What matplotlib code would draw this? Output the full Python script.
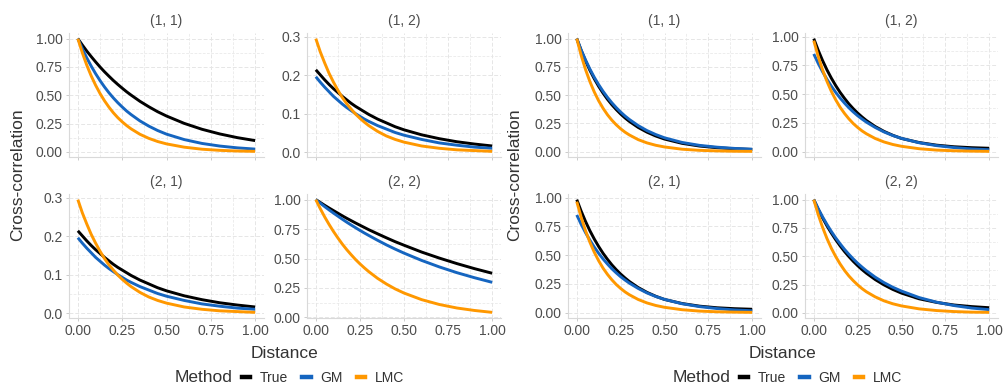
import matplotlib
matplotlib.use("Agg")
import matplotlib.pyplot as plt
from matplotlib.ticker import MultipleLocator, AutoMinorLocator, FormatStrFormatter
from matplotlib.lines import Line2D

plt.rcParams['font.family'] = ['Liberation Sans', 'DejaVu Sans']

# -----------------------------
# data
# -----------------------------
distance = [0, 0.025, 0.05, 0.075, 0.1, 0.125, 0.15, 0.175, 0.2, 0.225, 0.25, 0.275,
            0.3, 0.35, 0.4, 0.45, 0.5, 0.6, 0.7, 0.8, 0.9, 1.0]
methods = ["True", "GM", "LMC"]
method_colors = ["#000000", "#1565c0", "#ff9800"]
panel_titles = ["(1, 1)", "(1, 2)", "(2, 1)", "(2, 2)"]

# left figure
left_11_true = [1, .944, .891, .842, .795, .750, .708, .669, .631, .596, .563, .531,
                .502, .447, .399, .355, .317, .252, .200, .159, .126, .100]
left_11_gm = [1, .912, .831, .758, .691, .630, .574, .523, .477, .435, .397, .361,
              .330, .274, .228, .189, .157, .109, .075, .052, .036, .025]
left_11_lmc = [1, .876, .767, .672, .589, .516, .452, .396, .346, .303, .266, .233,
               .204, .156, .120, .092, .071, .042, .024, .014, .008, .005]

left_12_true = [.214, .201, .188, .176, .165, .155, .145, .136, .127, .119, .112, .105,
                .098, .086, .076, .066, .058, .045, .035, .027, .021, .016]
left_12_gm = [.196, .182, .169, .157, .145, .135, .125, .116, .108, .100, .093, .086,
              .080, .069, .060, .051, .044, .033, .024, .018, .013, .010]
left_12_lmc = [.295, .261, .232, .205, .182, .161, .142, .126, .112, .099, .088, .078,
               .069, .054, .042, .033, .026, .016, .010, .006, .004, .002]

left_22_true = [1, .976, .952, .929, .907, .885, .863, .842, .822, .802, .783, .764,
                .745, .710, .676, .643, .613, .555, .504, .457, .414, .375]
left_22_gm = [1, .970, .941, .913, .886, .860, .834, .809, .785, .762, .739, .717,
              .696, .655, .616, .580, .546, .484, .429, .380, .337, .298]
left_22_lmc = [1, .924, .854, .790, .730, .675, .623, .576, .533, .492, .455, .421,
               .389, .332, .284, .242, .207, .151, .110, .080, .059, .043]

# right figure
right_11_true = [1, .896, .803, .719, .644, .577, .517, .463, .415, .372, .333, .298,
                 .267, .214, .172, .138, .111, .073, .049, .034, .025, .019]
right_11_gm = [1, .900, .811, .730, .657, .592, .533, .480, .432, .389, .350, .315,
               .284, .230, .186, .151, .122, .081, .055, .039, .028, .021]
right_11_lmc = [1, .852, .726, .619, .527, .449, .383, .326, .278, .237, .202, .172,
                .147, .106, .077, .056, .041, .021, .011, .006, .003, .002]

right_12_true = [.982, .882, .792, .711, .639, .574, .515, .463, .415, .373, .335, .301,
                 .270, .218, .176, .142, .114, .079, .056, .042, .034, .029]
right_12_gm = [.849, .768, .695, .629, .569, .515, .466, .422, .381, .345, .312, .283,
               .256, .210, .171, .140, .115, .077, .052, .035, .023, .016]
right_12_lmc = [.965, .829, .711, .611, .524, .450, .386, .332, .285, .244, .210, .180,
                .155, .114, .084, .062, .046, .025, .013, .007, .004, .002]

right_22_true = [1, .916, .839, .769, .705, .646, .592, .542, .497, .455, .417, .382,
                 .350, .294, .247, .207, .174, .124, .092, .069, .055, .045]
right_22_gm = [1, .921, .848, .781, .719, .662, .610, .561, .517, .476, .438, .404,
               .372, .315, .267, .226, .192, .135, .094, .064, .042, .028]
right_22_lmc = [1, .869, .756, .657, .571, .497, .432, .375, .326, .284, .247, .214,
                .186, .141, .106, .080, .061, .035, .020, .011, .006, .004]

# cross-correlation is symmetric: (2, 1) == (1, 2)
left_panels = [
    (left_11_true, left_11_gm, left_11_lmc),
    (left_12_true, left_12_gm, left_12_lmc),
    (left_12_true, left_12_gm, left_12_lmc),
    (left_22_true, left_22_gm, left_22_lmc),
]
right_panels = [
    (right_11_true, right_11_gm, right_11_lmc),
    (right_12_true, right_12_gm, right_12_lmc),
    (right_12_true, right_12_gm, right_12_lmc),
    (right_22_true, right_22_gm, right_22_lmc),
]

# -----------------------------
# layout (pixels)
# -----------------------------
W, H = 1008, 392
fig = plt.figure(figsize=(W / 100, H / 100), dpi=100)

rows_px = [(33, 157), (194, 318)]
left_cols_px = [(69, 264), (307, 501)]
right_cols_px = [(568, 761), (805, 998)]

TICK_C = "#4d4d4d"
TITLE_C = "#333333"
GRID_C = "#e6e6e6"


def add_panel(x0, x1, y0, y1):
    return fig.add_axes([x0 / W, 1 - y1 / H, (x1 - x0) / W, (y1 - y0) / H])


def draw_group(panels, cols_px):
    for i, series in enumerate(panels):
        r, c = divmod(i, 2)
        x0, x1 = cols_px[c]
        y0, y1 = rows_px[r]
        ax = add_panel(x0, x1, y0, y1)
        for vals, col in zip(series, method_colors):
            ax.plot(distance, vals, color=col, lw=2.1, solid_capstyle='butt',
                    solid_joinstyle='round')
        ax.margins(0.05)

        ax.xaxis.set_major_locator(MultipleLocator(0.25))
        ax.xaxis.set_minor_locator(AutoMinorLocator(2))
        ax.xaxis.set_major_formatter(FormatStrFormatter('%.2f'))
        ymax = max(max(v) for v in series)
        if ymax > 0.5:
            ax.yaxis.set_major_locator(MultipleLocator(0.25))
            ax.yaxis.set_major_formatter(FormatStrFormatter('%.2f'))
        else:
            ax.yaxis.set_major_locator(MultipleLocator(0.1))
            ax.yaxis.set_major_formatter(FormatStrFormatter('%.1f'))
        ax.yaxis.set_minor_locator(AutoMinorLocator(2))

        if r == 0:
            ax.tick_params(axis='x', labelbottom=False)
        ax.tick_params(which='major', length=2.5, width=0.7, color="#cccccc",
                       labelsize=10, labelcolor=TICK_C, pad=2)
        ax.tick_params(which='minor', length=0)

        ax.grid(which='major', color=GRID_C, ls=(0, (4, 2)), lw=0.7)
        ax.grid(which='minor', color=GRID_C, ls=(0, (4, 2)), lw=0.5)
        ax.set_axisbelow(True)
        for s in ['top', 'right']:
            ax.spines[s].set_visible(False)
        for s in ['left', 'bottom']:
            ax.spines[s].set_color("#d9d9d9")
            ax.spines[s].set_linewidth(0.8)

        ax.set_title(panel_titles[i], fontsize=10, color=TICK_C, pad=6)


draw_group(left_panels, left_cols_px)
draw_group(right_panels, right_cols_px)

# axis titles
for ylab_x, xlab_x in [(18, 285), (515, 783)]:
    fig.text(ylab_x / W, 1 - 175 / H, "Cross-correlation", rotation=90,
             ha='center', va='center', fontsize=12.5, color=TITLE_C)
    fig.text(xlab_x / W, 1 - 354 / H, "Distance",
             ha='center', va='center', fontsize=12.5, color=TITLE_C)

# legends
handles = [Line2D([], [], color=c, lw=3.2) for c in method_colors]
for method_x, key_x in [(233, 242), (731, 740)]:
    fig.text(method_x / W, 1 - 378 / H, "Method", ha='right', va='center',
             fontsize=12.5, color=TITLE_C)
    fig.legend(handles, methods, ncol=3, loc='center left',
               bbox_to_anchor=(key_x / W, 1 - 378 / H), frameon=False,
               fontsize=10, handlelength=0.6, handletextpad=0.7,
               columnspacing=1.0, borderpad=0, borderaxespad=0,
               labelcolor=TITLE_C)

fig.savefig("out.png", dpi=100)
